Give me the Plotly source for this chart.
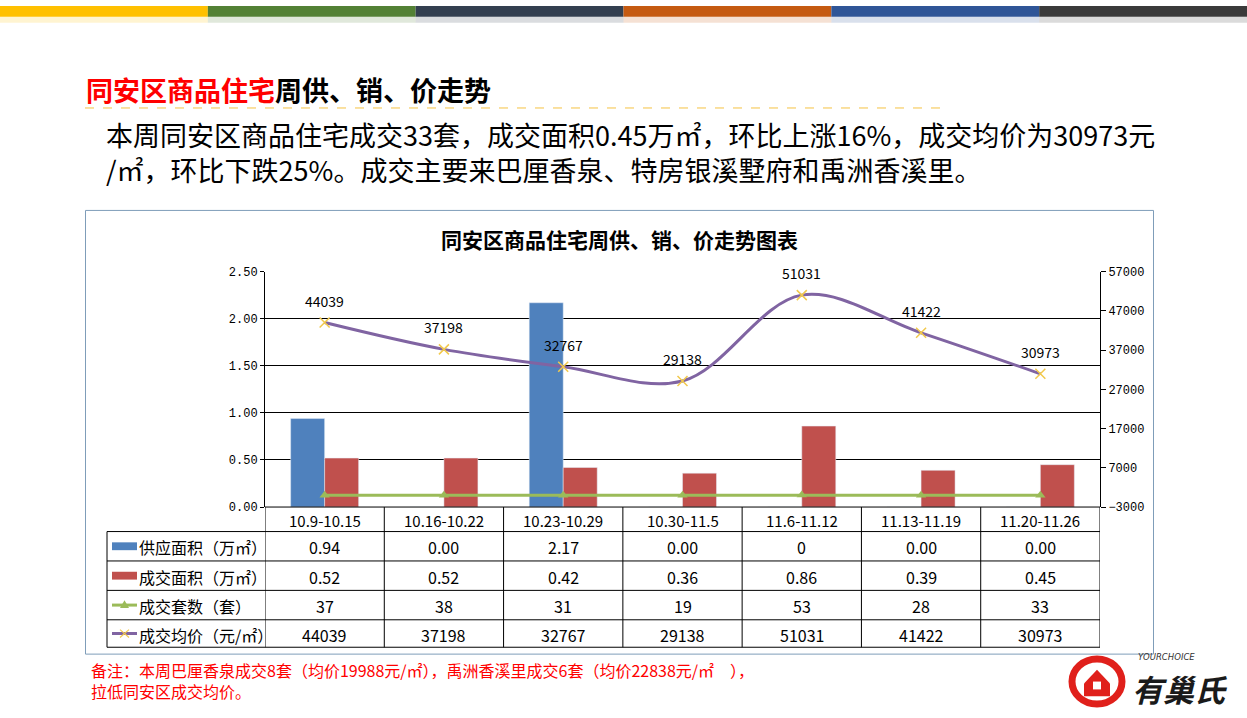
import plotly.graph_objects as go

W, H = 1247, 718
def X(px): return px / W
def Y(py): return 1 - py / H

categories = ["10.9-10.15", "10.16-10.22", "10.23-10.29", "10.30-11.5", "11.6-11.12", "11.13-11.19", "11.20-11.26"]
supply_area = [0.94, 0.00, 2.17, 0.00, 0, 0.00, 0.00]
supply_text = ["0.94", "0.00", "2.17", "0.00", "0", "0.00", "0.00"]
deal_area = [0.52, 0.52, 0.42, 0.36, 0.86, 0.39, 0.45]
deal_text = ["0.52", "0.52", "0.42", "0.36", "0.86", "0.39", "0.45"]
deal_units = [37, 38, 31, 19, 53, 28, 33]
avg_price = [44039, 37198, 32767, 29138, 51031, 41422, 30973]
row_labels = ["供应面积（万㎡）", "成交面积（万㎡）", "成交套数（套）", "成交均价（元/㎡）"]
top_colors = ["#FFC000", "#538135", "#333F50", "#C55A11", "#2F5597", "#3A3A3A"]

BLUE, RED, GREEN, PURPLE, GOLD = "#4F81BD", "#C0504D", "#9BBB59", "#8064A2", "#F2C94C"
CJK = "Noto Sans CJK SC"
MONO = "Liberation Mono"

fig = go.Figure()
fig.add_trace(go.Bar(x=categories, y=supply_area, marker_color=BLUE, name=row_labels[0]))
fig.add_trace(go.Bar(x=categories, y=deal_area, marker_color=RED, name=row_labels[1]))
fig.add_trace(go.Scatter(x=categories, y=deal_units, yaxis="y2", mode="lines+markers",
                         line=dict(color=GREEN, width=3),
                         marker=dict(symbol="triangle-up", size=9, color=GREEN), name=row_labels[2]))
fig.add_trace(go.Scatter(x=categories, y=avg_price, yaxis="y2", mode="lines+markers",
                         line=dict(color=PURPLE, width=3, shape="spline", smoothing=1.0),
                         marker=dict(symbol="x-thin", size=10, line=dict(color=GOLD, width=1.5)),
                         name=row_labels[3]))

shapes = []
annotations = []

def note(x, y, text, size, color="black", family=CJK, xanchor="left", xref="paper", yref="paper", **kw):
    d = dict(xref=xref, yref=yref, x=x, y=y, xanchor=xanchor, yanchor="middle", showarrow=False,
             font=dict(family=family, size=size, color=color), text=text)
    d.update(kw)
    annotations.append(d)

# top colour strip
seg = W / 6
for i, c in enumerate(top_colors):
    shapes.append(dict(type="rect", xref="paper", yref="paper", x0=X(i * seg), x1=X((i + 1) * seg),
                       y0=Y(11), y1=Y(0), fillcolor=c, line_width=0, layer="below"))
    shapes.append(dict(type="rect", xref="paper", yref="paper", x0=X(i * seg), x1=X((i + 1) * seg),
                       y0=Y(17), y1=Y(11), fillcolor=c, opacity=0.18, line_width=0, layer="below"))

# headline
note(X(84), Y(85), '<b><span style="color:#FF0000">同安区商品住宅</span>周供、销、价走势</b>', 27)
shapes.append(dict(type="line", xref="paper", yref="paper", x0=X(85), x1=X(948), y0=Y(104), y1=Y(104),
                   line=dict(color="#F5C242", width=1, dash="dash")))
note(X(104), Y(149), "本周同安区商品住宅成交33套，成交面积0.45万㎡，环比上涨16%，成交均价为30973元"
     "<br>/㎡，环比下跌25%。成交主要来巴厘香泉、特房银溪墅府和禹洲香溪里。", 27, align="left")

# chart box
shapes.append(dict(type="rect", xref="paper", yref="paper", x0=X(85.5), x1=X(1153.5), y0=Y(661), y1=Y(208.5),
                   line=dict(color="#7F9DB9", width=1), fillcolor="rgba(0,0,0,0)"))
note(X(619), Y(238), "<b>同安区商品住宅周供、销、价走势图表</b>", 21, xanchor="center")

# price labels
for c, v in zip(categories, avg_price):
    note(c, v, str(v), 14, xanchor="center", xref="x", yref="y2", yshift=22)

# data table
row_tops = [511, 536, 566, 596, 626, 654]
for py in row_tops:
    x0 = 265 if py == 511 else 107
    shapes.append(dict(type="line", xref="paper", yref="paper", x0=X(x0), x1=X(1100), y0=Y(py), y1=Y(py),
                       line=dict(color="black", width=1)))
shapes.append(dict(type="line", xref="paper", yref="paper", x0=X(107), x1=X(107), y0=Y(536), y1=Y(654),
                   line=dict(color="black", width=1)))
for k in range(8):
    shapes.append(dict(type="line", xref="x", yref="paper", x0=k - 0.5, x1=k - 0.5, y0=Y(511), y1=Y(654),
                       line=dict(color="black", width=1)))

row_centers = [(row_tops[i] + row_tops[i + 1]) / 2 for i in range(5)]
table_rows = [categories, supply_text, deal_text, [str(v) for v in deal_units], [str(v) for v in avg_price]]
for r, vals in enumerate(table_rows):
    for c, v in zip(categories, vals):
        note(c, Y(row_centers[r] + 1), v, 15 if r == 0 else 16, xanchor="center", xref="x")

# legend keys in table
for i, lab in enumerate(row_labels):
    note(X(137), Y(row_centers[i + 1] + 1), lab, 16)
shapes.append(dict(type="rect", xref="paper", yref="paper", x0=X(112), x1=X(137),
                   y0=Y(row_centers[1] + 4), y1=Y(row_centers[1] - 4), fillcolor=BLUE, line_width=0))
shapes.append(dict(type="rect", xref="paper", yref="paper", x0=X(112), x1=X(137),
                   y0=Y(row_centers[2] + 4), y1=Y(row_centers[2] - 4), fillcolor=RED, line_width=0))
cy = row_centers[3]
shapes.append(dict(type="line", xref="paper", yref="paper", x0=X(112), x1=X(137), y0=Y(cy), y1=Y(cy),
                   line=dict(color=GREEN, width=3)))
shapes.append(dict(type="path", xref="paper", yref="paper",
                   path=f"M {X(120)} {Y(cy+3)} L {X(129)} {Y(cy+3)} L {X(124.5)} {Y(cy-5)} Z",
                   fillcolor=GREEN, line_width=0))
cy = row_centers[4]
shapes.append(dict(type="line", xref="paper", yref="paper", x0=X(112), x1=X(137), y0=Y(cy), y1=Y(cy),
                   line=dict(color=PURPLE, width=3)))
for dx in (-1, 1):
    shapes.append(dict(type="line", xref="paper", yref="paper", x0=X(120), x1=X(129),
                       y0=Y(cy - 4 * dx), y1=Y(cy + 4 * dx), line=dict(color=GOLD, width=1.2)))

# footnote
note(X(89), Y(687.5), "备注：本周巴厘香泉成交8套（均价19988元/㎡），禹洲香溪里成交6套（均价22838元/㎡　），"
     "<br>拉低同安区成交均价。", 16, color="#FF0000", align="left")

# logo
shapes.append(dict(type="circle", xref="paper", yref="paper", x0=X(1072), x1=X(1122), y0=Y(712), y1=Y(666),
                   line=dict(color="#E0201B", width=7), fillcolor="rgba(0,0,0,0)"))
shapes.append(dict(type="path", xref="paper", yref="paper",
                   path=f"M {X(1084)} {Y(691)} L {X(1097)} {Y(677)} L {X(1110)} {Y(691)} L {X(1110)} {Y(704)} L {X(1084)} {Y(704)} Z",
                   fillcolor="#E0201B", line_width=0))
shapes.append(dict(type="rect", xref="paper", yref="paper", x0=X(1093), x1=X(1101), y0=Y(697), y1=Y(689),
                   fillcolor="white", line_width=0))
note(X(1130), Y(696), "<b><i>有巢氏</i></b>", 31, color="#1A1A1A")
note(X(1136), Y(664), "<i>YOURCHOICE</i>", 8.5, color="#333333", family="DejaVu Sans")

fig.update_layout(
    width=W, height=H, margin=dict(l=0, r=0, t=0, b=0),
    paper_bgcolor="white", plot_bgcolor="white", showlegend=False,
    barmode="group", bargap=0.43, bargroupgap=0,
    xaxis=dict(domain=[X(265), X(1100)], range=[-0.5, 6.5], showticklabels=False, ticks="",
               showgrid=False, zeroline=False, showline=False, fixedrange=True),
    yaxis=dict(domain=[Y(511), Y(271)], range=[0, 2.5], tickvals=[0, 0.5, 1, 1.5, 2, 2.5],
               tickformat=".2f", showgrid=True, gridcolor="black", gridwidth=1, zeroline=False,
               showline=True, linecolor="black", linewidth=1, ticks="outside", ticklen=4, tickcolor="black",
               tickfont=dict(family=MONO, size=12, color="black")),
    yaxis2=dict(overlaying="y", side="right", anchor="x", range=[-3000, 57000],
                tickvals=[-3000, 7000, 17000, 27000, 37000, 47000, 57000], tickformat="d",
                showgrid=False, zeroline=False,
                showline=True, linecolor="black", linewidth=1, ticks="outside", ticklen=5, tickcolor="black",
                tickfont=dict(family=MONO, size=12, color="black")),
    shapes=shapes, annotations=annotations,
)

post = ("document.documentElement.style.margin='0';document.documentElement.style.padding='0';"
        "document.documentElement.style.overflow='hidden';"
        "document.body.style.margin='0';document.body.style.padding='0';document.body.style.overflow='hidden';"
        "var gd=document.getElementById('{plot_id}');gd.style.position='fixed';gd.style.top='0px';gd.style.left='0px';")
fig.write_html("out.html", config={"displayModeBar": False}, post_script=post)
